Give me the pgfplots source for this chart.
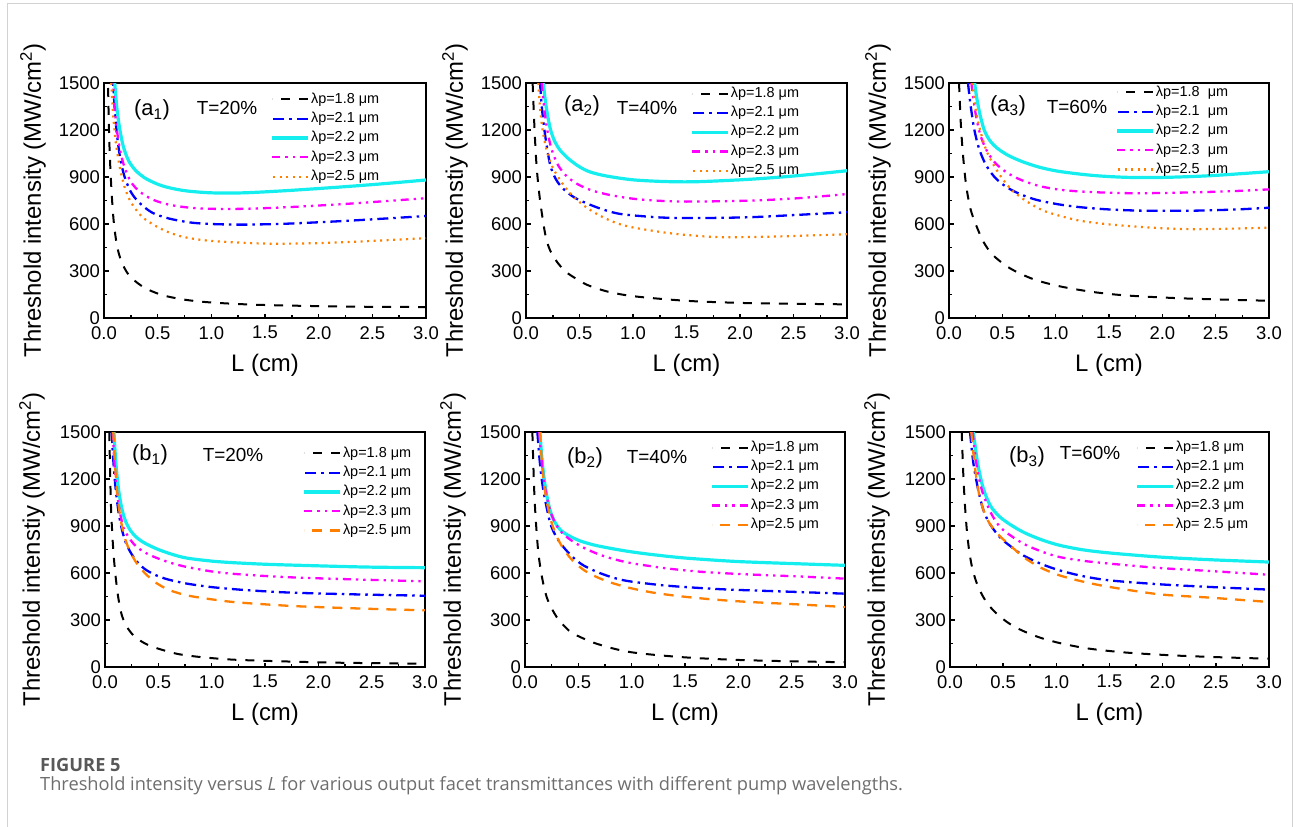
\documentclass[border=0pt]{standalone}
\usepackage{fontspec}
\setmainfont{Liberation Sans}
\newfontfamily\capfont{Open Sans}
\usepackage{pgfplots}
\pgfplotsset{compat=1.18}
\definecolor{cy}{RGB}{20,238,238}
\definecolor{mg}{RGB}{255,0,255}
\definecolor{og}{RGB}{255,128,0}
\definecolor{bl}{RGB}{0,0,255}
\definecolor{capA}{RGB}{88,88,88}
\definecolor{capB}{RGB}{110,110,110}
\definecolor{frm}{RGB}{210,210,210}

\pgfplotsset{
 panel/.style={scale only axis, xmin=0, xmax=3, ymin=0, ymax=1500, height=235bp,
   xtick={0,0.5,1,1.5,2,2.5,3}, ytick={0,300,600,900,1200,1500},
   minor x tick num=1, minor y tick num=1,
   tick align=inside, xtick pos=left, ytick pos=left,
   major tick length=4.5bp, minor tick length=3bp,
   every tick/.style={black, line width=1.5bp},
   axis line style={line width=2.2bp},
   ticklabel style={font=\fontsize{18.5}{20}\selectfont},
   /pgf/number format/assume math mode=true,
   xticklabel style={inner sep=0pt, yshift=-8bp, /pgf/number format/fixed, /pgf/number format/fixed zerofill, /pgf/number format/precision=1},
   yticklabel style={inner sep=0pt, xshift=-4bp, /pgf/number format/fixed, /pgf/number format/1000 sep={}},
   xlabel={L (cm)}, label style={font=\fontsize{24}{28}\selectfont},
   xlabel style={at={(axis description cs:0.5,0)}, anchor=center, yshift=-47bp},
   legend cell align=left,
   legend image code/.code={\draw[##1] (36bp,0bp) -- (0bp,0bp);},
   legend style={draw=none, fill=none, anchor=north west, font=\fontsize{14.5}{16}\selectfont, inner sep=0pt, row sep=2.8bp, nodes={inner sep=1.5bp, text height=10.5bp, text depth=3bp}},
   every axis plot/.append style={smooth, tension=0.5},
 },
 s18/.style={black, line width=2bp, dash pattern=on 9bp off 9bp},
 s21/.style={bl, line width=2.3bp, dash pattern=on 11bp off 5bp on 2.5bp off 5bp},
 s22/.style={cy, line width=3.2bp},
 s23/.style={mg, line width=2.3bp, dash pattern=on 8bp off 5bp on 2.3bp off 5bp on 2.3bp off 5bp},
 s25a/.style={og, line width=2.2bp, dash pattern=on 2bp off 4.5bp},
 s25b/.style={og, line width=2.3bp, dash pattern=on 10bp off 8bp},
}

\begin{document}
\begin{tikzpicture}
\useasboundingbox (0,0) rectangle (1293bp,-827bp);
\draw[line width=1bp, frm] (7bp,-827bp) -- (7bp,-3bp) -- (1292bp,-3bp) -- (1292bp,-827bp);

% ---------- a1 ----------
\begin{axis}[panel, at={(104bp,-318bp)}, anchor=south west, width=322bp,
  ylabel={Threshold intensity (MW/cm\textsuperscript{2})},
  ylabel style={at={(axis description cs:-0.2205,0.5)}, anchor=center},
  legend style={at={(0.516,0.966)}}]
\addplot[s18] coordinates {(0.035,1583) (0.045,1240) (0.055,1022) (0.07,812) (0.09,620) (0.12,465) (0.16,365) (0.22,285) (0.3,230) (0.4,185) (0.55,145) (0.75,117) (1.0,99) (1.4,85) (1.9,77) (2.4,72) (3.0,70)};
\addlegendentry{λp=1.8 μm}
\addplot[s21] coordinates {(0.08,1552) (0.1,1335) (0.12,1175) (0.15,1025) (0.19,905) (0.25,805) (0.33,735) (0.45,672) (0.6,636) (0.8,610) (1.0,600) (1.3,596) (1.7,602) (2.2,618) (2.6,634) (3.0,651)};
\addlegendentry{λp=2.1 μm}
\addplot[s22] coordinates {(0.095,1544) (0.1,1500) (0.12,1340) (0.146,1210) (0.18,1095) (0.23,1003) (0.3,938) (0.4,886) (0.55,842) (0.75,813) (1.0,799) (1.3,799) (1.7,813) (2.2,836) (2.6,857) (3.0,881)};
\addlegendentry{λp=2.2 μm}
\addplot[s23] coordinates {(0.08,1547) (0.084,1500) (0.1,1340) (0.12,1200) (0.15,1070) (0.19,965) (0.25,870) (0.33,808) (0.45,757) (0.6,724) (0.8,704) (1.0,697) (1.3,697) (1.7,707) (2.2,726) (2.6,745) (3.0,765)};
\addlegendentry{λp=2.3 μm}
\addplot[s25a] coordinates {(0.068,1500) (0.085,1300) (0.11,1120) (0.146,966) (0.19,840) (0.24,753) (0.3,690) (0.364,640) (0.49,584) (0.6,548) (0.75,516) (1.0,492) (1.5,475) (2.0,478) (2.5,492) (3.0,510)};
\addlegendentry{λp=2.5 μm}
\end{axis}

% ---------- a2 ----------
\begin{axis}[panel, at={(526bp,-318bp)}, anchor=south west, width=321bp,
  ylabel={Threshold intenstiy (MW/cm\textsuperscript{2})},
  ylabel style={at={(axis description cs:-0.221,0.5)}, anchor=center},
  legend style={at={(0.511,0.991)}}]
\addplot[s18] coordinates {(0.062,1500) (0.08,1200) (0.1,960) (0.131,753) (0.178,541) (0.22,440) (0.287,361) (0.35,310) (0.41,276) (0.57,212) (0.755,170) (0.97,142) (1.28,121) (1.6,106) (2.08,95) (2.53,91) (3.0,87)};
\addlegendentry{λp=1.8 μm}
\addplot[s21] coordinates {(0.131,1500) (0.15,1330) (0.178,1170) (0.225,980) (0.28,885) (0.35,823) (0.45,770) (0.567,732) (0.7,697) (0.85,668) (1.0,655) (1.28,641) (1.6,638) (2.08,643) (2.53,658) (3.0,675)};
\addlegendentry{λp=2.1 μm}
\addplot[s22] coordinates {(0.162,1500) (0.18,1390) (0.2,1300) (0.23,1200) (0.27,1125) (0.32,1070) (0.4,1015) (0.5,965) (0.6,932) (0.755,906) (1.0,882) (1.3,871) (1.6,870) (2.08,885) (2.53,908) (3.0,940)};
\addlegendentry{λp=2.2 μm}
\addplot[s23] coordinates {(0.147,1500) (0.17,1340) (0.2,1195) (0.24,1075) (0.3,975) (0.38,905) (0.48,855) (0.6,818) (0.75,790) (0.97,764) (1.2,750) (1.5,743) (2.08,749) (2.53,764) (3.0,791)};
\addlegendentry{λp=2.3 μm}
\addplot[s25a] coordinates {(0.115,1500) (0.13,1350) (0.155,1200) (0.193,1071) (0.25,960) (0.35,849) (0.45,770) (0.567,705) (0.7,650) (0.85,605) (1.0,578) (1.28,547) (1.5,530) (1.8,516) (2.2,518) (2.53,524) (3.0,535)};
\addlegendentry{λp=2.5 μm}
\end{axis}

% ---------- a3 ----------
\begin{axis}[panel, at={(949bp,-318bp)}, anchor=south west, width=320bp,
  ylabel={Threshold intenstiy (MW/cm\textsuperscript{2})},
  ylabel style={at={(axis description cs:-0.222,0.5)}, anchor=center},
  legend style={at={(0.519,0.996)}}]
\addplot[s18] coordinates {(0.094,1500) (0.11,1250) (0.13,1050) (0.16,850) (0.2,700) (0.25,600) (0.32,490) (0.41,403) (0.57,318) (0.79,248) (1.04,202) (1.35,166) (1.66,144) (2.13,127) (2.6,117) (3.0,110)};
\addlegendentry{λp=1.8\ \ μm}
\addplot[s21] coordinates {(0.178,1500) (0.2,1370) (0.235,1210) (0.28,1085) (0.34,985) (0.42,905) (0.506,852) (0.6,812) (0.725,775) (0.85,749) (1.04,724) (1.25,706) (1.5,693) (1.82,685) (2.29,685) (2.7,693) (3.0,704)};
\addlegendentry{λp=2.1\ \ μm}
\addplot[s22] coordinates {(0.24,1500) (0.26,1405) (0.29,1300) (0.33,1200) (0.38,1135) (0.45,1085) (0.55,1040) (0.68,1000) (0.85,962) (1.04,935) (1.35,910) (1.66,898) (1.98,897) (2.44,908) (3.0,934)};
\addlegendentry{λp=2.2\ \ μm}
\addplot[s23] coordinates {(0.21,1500) (0.23,1390) (0.26,1265) (0.3,1155) (0.36,1060) (0.44,985) (0.55,925) (0.68,880) (0.85,842) (1.05,818) (1.3,805) (1.66,797) (2.0,798) (2.4,804) (2.7,811) (3.0,821)};
\addlegendentry{λp=2.3\ \ μm}
\addplot[s25a] coordinates {(0.22,1500) (0.25,1330) (0.30,1178) (0.35,1070) (0.41,987) (0.5,890) (0.6,810) (0.75,735) (0.91,679) (1.19,626) (1.4,605) (1.66,588) (2.0,573) (2.29,567) (2.7,571) (3.0,577)};
\addlegendentry{λp=2.5\ \ μm}
\end{axis}

% ---------- b1 ----------
\begin{axis}[panel, at={(105bp,-667bp)}, anchor=south west, width=320bp,
  ylabel={Threshold intenstiy (MW/cm\textsuperscript{2})},
  ylabel style={at={(axis description cs:-0.228,0.5)}, anchor=center},
  legend style={at={(0.616,0.945)}}]
\addplot[s18] coordinates {(0.04,1500) (0.055,1050) (0.07,830) (0.084,690) (0.1,575) (0.125,440) (0.156,335) (0.2,262) (0.266,202) (0.35,160) (0.45,128) (0.67,85) (0.89,64) (1.2,47) (1.67,36) (2.14,28) (2.6,24) (3.0,21)};
\addlegendentry{λp=1.8 μm}
\addplot[s21] coordinates {(0.0625,1500) (0.075,1350) (0.09,1210) (0.11,1075) (0.135,955) (0.165,860) (0.2,785) (0.25,720) (0.31,665) (0.38,622) (0.48,585) (0.6,557) (0.77,532) (1.0,510) (1.3,492) (1.7,476) (2.2,466) (2.6,460) (3.0,455)};
\addlegendentry{λp=2.1 μm}
\addplot[s22] coordinates {(0.084,1500) (0.095,1370) (0.11,1240) (0.13,1120) (0.155,1020) (0.19,935) (0.24,870) (0.3,825) (0.38,788) (0.5,750) (0.64,717) (0.77,695) (1.0,676) (1.2,666) (1.5,656) (1.83,649) (2.45,638) (3.0,634)};
\addlegendentry{λp=2.2 μm}
\addplot[s23] coordinates {(0.072,1500) (0.085,1340) (0.1,1200) (0.12,1075) (0.145,970) (0.175,885) (0.215,835) (0.27,785) (0.34,745) (0.42,715) (0.516,688) (0.64,660) (0.77,638) (1.0,610) (1.2,595) (1.5,581) (1.83,570) (2.45,557) (3.0,547)};
\addlegendentry{λp=2.3 μm}
\addplot[s25b] coordinates {(0.078,1500) (0.095,1280) (0.12,1080) (0.15,930) (0.19,815) (0.24,730) (0.3,660) (0.38,595) (0.48,537) (0.6,492) (0.77,457) (1.0,432) (1.2,415) (1.5,400) (1.83,387) (2.45,372) (3.0,362)};
\addlegendentry{λp=2.5 μm}
\end{axis}

% ---------- b2 ----------
\begin{axis}[panel, at={(525bp,-667bp)}, anchor=south west, width=320bp,
  ylabel={Threshold intenstiy (MW/cm\textsuperscript{2})},
  ylabel style={at={(axis description cs:-0.225,0.5)}, anchor=center},
  legend style={at={(0.578,0.970)}}]
\addplot[s18] coordinates {(0.069,1500) (0.085,1150) (0.1,950) (0.125,730) (0.16,570) (0.203,447) (0.25,375) (0.297,319) (0.37,260) (0.453,213) (0.67,149) (0.98,96) (1.45,64) (1.92,47) (2.39,38) (2.86,32) (3.0,31)};
\addlegendentry{λp=1.8 μm}
\addplot[s21] coordinates {(0.116,1500) (0.14,1300) (0.172,1128) (0.234,925) (0.29,835) (0.36,766) (0.45,700) (0.547,649) (0.7,600) (0.86,564) (1.0,545) (1.3,521) (1.6,506) (1.92,494) (2.55,479) (3.0,468)};
\addlegendentry{λp=2.1 μm}
\addplot[s22] coordinates {(0.14,1500) (0.155,1360) (0.175,1225) (0.2,1110) (0.235,1000) (0.28,925) (0.34,870) (0.42,835) (0.516,805) (0.64,780) (0.766,762) (0.95,740) (1.14,722) (1.4,702) (1.61,690) (2.0,673) (2.6,658) (3.0,649)};
\addlegendentry{λp=2.2 μm}
\addplot[s23] coordinates {(0.134,1500) (0.15,1360) (0.17,1230) (0.2,1100) (0.24,990) (0.29,910) (0.35,855) (0.43,810) (0.54,765) (0.67,725) (0.8,695) (0.98,665) (1.3,632) (1.61,610) (2.0,594) (2.6,577) (3.0,564)};
\addlegendentry{λp=2.3 μm}
\addplot[s25b] coordinates {(0.14,1500) (0.155,1340) (0.175,1190) (0.2,1070) (0.25,920) (0.31,815) (0.38,735) (0.46,670) (0.56,615) (0.67,575) (0.8,540) (0.98,505) (1.2,475) (1.45,452) (1.75,432) (2.08,416) (2.55,400) (3.0,383)};
\addlegendentry{λp=2.5 μm}
\end{axis}

% ---------- b3 ----------
\begin{axis}[panel, at={(950bp,-667bp)}, anchor=south west, width=319bp,
  ylabel={Threshold intenstiy (MW/cm\textsuperscript{2})},
  ylabel style={at={(axis description cs:-0.229,0.5)}, anchor=center},
  legend style={at={(0.58,0.970)}}]
\addplot[s18] coordinates {(0.11,1500) (0.125,1230) (0.14,1040) (0.16,860) (0.185,720) (0.215,615) (0.26,520) (0.313,447) (0.37,390) (0.44,340) (0.53,290) (0.626,250) (0.75,212) (0.877,181) (1.05,150) (1.3,118) (1.66,92) (2.13,73) (2.6,61) (3.0,53)};
\addlegendentry{λp=1.8 μm}
\addplot[s21] coordinates {(0.188,1500) (0.22,1300) (0.266,1128) (0.31,1010) (0.36,930) (0.43,860) (0.5,808) (0.6,755) (0.69,712) (0.85,660) (1.03,617) (1.25,580) (1.5,553) (1.97,528) (2.44,511) (3.0,494)};
\addlegendentry{λp=2.1 μm}
\addplot[s22] coordinates {(0.22,1500) (0.26,1300) (0.313,1140) (0.38,1030) (0.47,957) (0.6,895) (0.72,851) (0.87,810) (1.03,777) (1.25,748) (1.5,728) (1.97,702) (2.44,685) (3.0,670)};
\addlegendentry{λp=2.2 μm}
\addplot[s23] coordinates {(0.213,1500) (0.25,1290) (0.3,1128) (0.38,990) (0.47,894) (0.6,825) (0.72,777) (0.87,735) (1.03,702) (1.25,678) (1.5,660) (1.97,632) (2.44,613) (3.0,589)};
\addlegendentry{λp=2.3 μm}
\addplot[s25b] coordinates {(0.2,1500) (0.23,1300) (0.266,1128) (0.31,1010) (0.36,930) (0.43,865) (0.5,815) (0.6,755) (0.69,702) (0.85,635) (1.03,585) (1.25,545) (1.5,511) (1.97,464) (2.44,443) (3.0,415)};
\addlegendentry{λp= 2.5 μm}
\end{axis}

% panel labels
\tikzset{plab/.style={font=\fontsize{22}{24}\selectfont, inner sep=0pt}, tlab/.style={font=\fontsize{19}{21}\selectfont, inner sep=0pt}}
\node[plab] at (152bp,-110bp) {(a\textsubscript{1})};
\node[tlab] at (227bp,-108bp) {T=20\%};
\node[plab] at (582bp,-106bp) {(a\textsubscript{2})};
\node[tlab] at (647bp,-108bp) {T=40\%};
\node[plab] at (1008bp,-106bp) {(a\textsubscript{3})};
\node[tlab] at (1077bp,-107bp) {T=60\%};
\node[plab] at (150bp,-455bp) {(b\textsubscript{1})};
\node[tlab] at (233bp,-455bp) {T=20\%};
\node[plab] at (585bp,-458bp) {(b\textsubscript{2})};
\node[tlab] at (657bp,-457bp) {T=40\%};
\node[plab] at (1027bp,-457bp) {(b\textsubscript{3})};
\node[tlab] at (1090bp,-453bp) {T=60\%};

% caption
\node[anchor=base west, inner sep=0pt, text=capA, font=\capfont\bfseries\fontsize{18.3}{20}\selectfont] at (40bp,-771.7bp) {FIGURE 5};
\node[anchor=base west, inner sep=0pt, text=capB, font=\capfont\fontsize{18.3}{20}\selectfont] at (40bp,-790.5bp) {Threshold intensity versus \textit{L} for various output facet transmittances with different pump wavelengths.};
\end{tikzpicture}
\end{document}
